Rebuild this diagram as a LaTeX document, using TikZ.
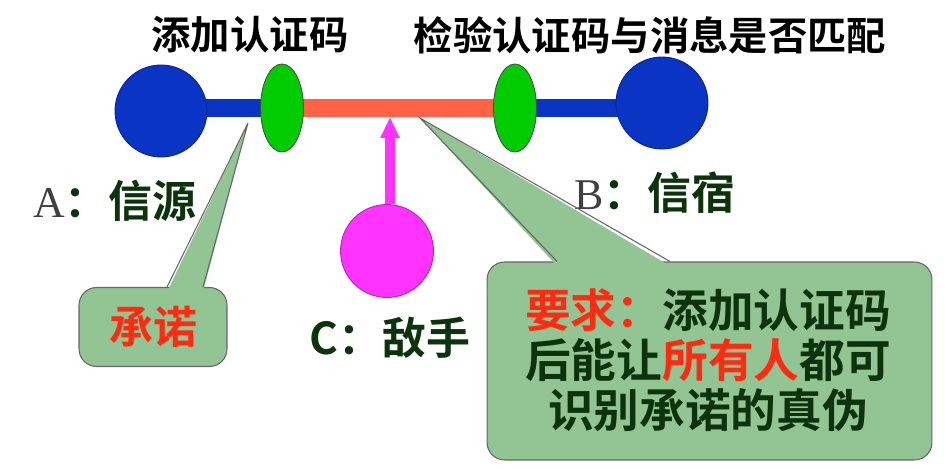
\documentclass[tikz,border=0pt]{standalone}
\usepackage{fontspec}
\setmainfont{Liberation Serif}
\newfontfamily\cjk{Noto Sans CJK SC Bold}
\usetikzlibrary{positioning,arrows.meta,shapes.geometric,backgrounds}
\definecolor{dotblue}{HTML}{0A34C4}
\definecolor{keygreen}{HTML}{00CC00}
\definecolor{linkred}{HTML}{FF6347}
\definecolor{foe}{HTML}{FF33FF}
\definecolor{note}{HTML}{93C493}
\definecolor{ink}{HTML}{0C330C}
\definecolor{warn}{HTML}{FF2A12}

\begin{document}
\begin{tikzpicture}[x=0.02cm,y=-0.02cm,
  party/.style={circle,draw=dotblue!70!black,line width=0.5pt,fill=dotblue,minimum size=1.84cm,inner sep=0pt},
  tag/.style={ellipse,draw=black!70,line width=0.5pt,fill=keygreen,minimum width=0.86cm,minimum height=1.76cm,inner sep=0pt},
  bar/.style={line width=0.36cm},
  head/.style={font=\cjk\fontsize{22.4pt}{24pt}\selectfont,inner sep=0pt},
  who/.style={font=\cjk\fontsize{25pt}{27pt}\selectfont,text=ink,inner sep=0pt},
  box/.style={rounded corners=10pt,draw=black!60,line width=0.6pt,fill=note},
  side/.style={draw=black!60,line width=0.6pt}]
\useasboundingbox (0,0) rectangle (947,469);
\node[party] (a) at (161,111) {};
\node[party] (b) at (662,103) {};
\node[tag] (k1) at (282,108) {};
\node[tag] (k2) at (515,108) {};
\node[circle,draw=foe!70!black,line width=0.5pt,fill=foe,minimum size=1.86cm,inner sep=0pt] (c) at (387,251) {};
\begin{scope}[on background layer]
\draw[bar,dotblue] (a.center |- k1.center) -- (k1.center);
\draw[bar,linkred] (k1.center) -- (k2.center);
\draw[bar,dotblue] (k2.center) -- (b.center |- k2.center);
\end{scope}
\coordinate (hit) at (390,117);
\draw[-{Triangle[width=0.36cm,length=0.42cm]},line width=0.2cm,foe] (c.north -| hit) -- (hit);

\node[head] (h1) at (250,35) {添加认证码};
\node[head] (h2) at (650,35) {检验认证码与消息是否匹配};
\node[who] (la) at (115,201) {{\rmfamily\mdseries\color{black!75}A}：信源};
\node[who] (lb) at (655,193) {{\rmfamily\mdseries\color{black!75}B}：信宿};
\node[who] (lc) at (390,338) {C：敌手};

\node[box,minimum width=2.96cm,minimum height=1.58cm] (n1) at (153,327) {};
\coordinate (t1) at (248,123);
\fill[note] (167,292) -- (t1) -- (203,292) -- cycle;
\draw[side] (167,0 |- n1.north) -- (t1) -- (203,0 |- n1.north);
\node[who,text=warn] at (n1) {承诺};

\node[box,minimum width=8.9cm,minimum height=3.96cm] (n2) at (709.5,361) {};
\coordinate (t2) at (420,118);
\fill[note] (557,266) -- (t2) -- (670,266) -- cycle;
\draw[side] (557,0 |- n2.north) -- (t2) -- (670,0 |- n2.north);
\node[who,font=\cjk\fontsize{26pt}{28.3pt}\selectfont,align=center] (req) at (708,360)
  {\textcolor{warn}{要求：}添加认证码\\后能让\textcolor{warn}{所有人}都可\\识别承诺的真伪};
\end{tikzpicture}
\end{document}
